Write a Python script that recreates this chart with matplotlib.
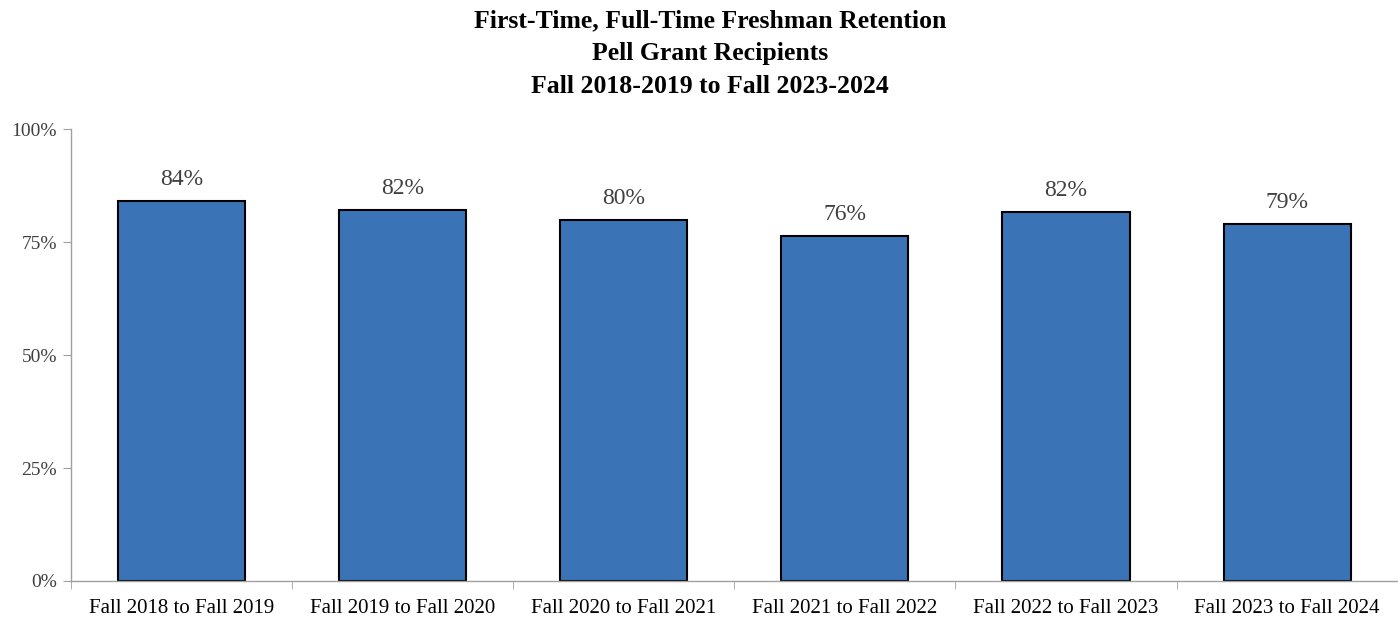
import numpy as np
import matplotlib
matplotlib.use("Agg")
import matplotlib.pyplot as plt

categories = ["Fall 2018 to Fall 2019", "Fall 2019 to Fall 2020", "Fall 2020 to Fall 2021",
              "Fall 2021 to Fall 2022", "Fall 2022 to Fall 2023", "Fall 2023 to Fall 2024"]
retention = [0.842, 0.822, 0.800, 0.764, 0.817, 0.790]
labels = ["84%", "82%", "80%", "76%", "82%", "79%"]
yticks = [0, 0.25, 0.5, 0.75, 1.0]
ytick_labels = ["0%", "25%", "50%", "75%", "100%"]

plt.rcParams['font.family'] = ['Liberation Serif', 'DejaVu Serif']

fig = plt.figure(figsize=(13.98, 6.19), dpi=100)
ax = fig.add_axes([0.0508, 0.0614, 0.949, 0.7294])

x = np.arange(len(categories))
ax.bar(x, retention, width=0.575, color="#3A74B6", edgecolor="black", linewidth=1.5)
for xi, v, lab in zip(x, retention, labels):
    ax.text(xi, v + 0.025, lab, ha="center", va="bottom", fontsize=17, color="#404040")

ax.set_xlim(-0.5, len(categories) - 0.5)
ax.set_ylim(0, 1.0)
ax.set_yticks(yticks)
ax.set_yticklabels(ytick_labels, fontsize=14, color="#404040")
ax.set_xticks(x)
ax.set_xticklabels(categories, fontsize=15, color="black")
ax.set_xticks(np.arange(len(categories) + 1) - 0.5, minor=True)
ax.tick_params(axis="x", which="major", length=0, pad=13)
ax.tick_params(axis="x", which="minor", length=6, color="#A0A0A0", direction="out")
ax.tick_params(axis="y", length=6, color="#A0A0A0", pad=4)

for s in ["top", "right"]:
    ax.spines[s].set_visible(False)
for s in ["left", "bottom"]:
    ax.spines[s].set_color("#A0A0A0")
    ax.spines[s].set_linewidth(1.0)

fig.text(0.508, 0.985, "First-Time, Full-Time Freshman Retention\nPell Grant Recipients\nFall 2018-2019 to Fall 2023-2024",
         ha="center", va="top", fontsize=18.5, fontweight="bold", linespacing=1.55)

fig.savefig("out.png", dpi=100)
